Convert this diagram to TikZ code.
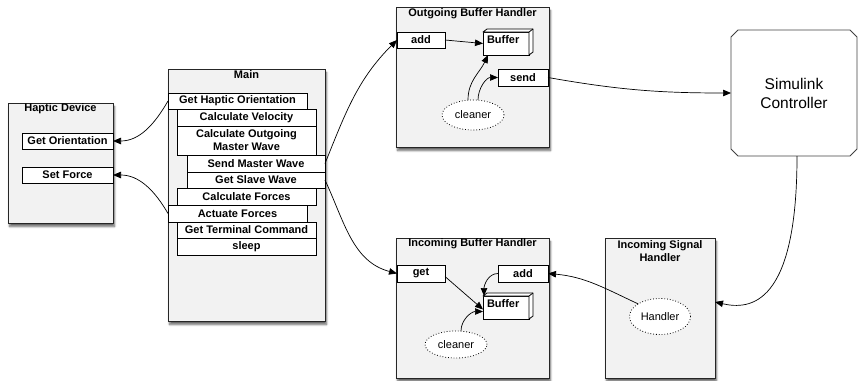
\documentclass[tikz,border=0pt]{standalone}
\usepackage{fontspec}
\setmainfont{Liberation Sans}
\usetikzlibrary{arrows.meta,shapes.geometric,shapes.misc,shadows.blur}
\begin{document}
\begin{tikzpicture}[x=1pt,y=-1pt,
  every node/.style={inner sep=0pt, outer sep=0pt},
  sz/.style 2 args={minimum width=#1pt, minimum height=#2pt},
  group/.style={draw=black!85, line width=0.9pt, fill=black!5,
     blur shadow={shadow xshift=1.5pt, shadow yshift=-3.5pt, shadow blur steps=6, shadow opacity=60}},
  ttl/.style={font=\fontsize{11}{13}\selectfont\bfseries, align=center},
  item/.style={draw, line width=0.8pt, fill=white, font=\fontsize{11}{13}\selectfont\bfseries, align=center},
  proc/.style={draw, dotted, line width=0.8pt, fill=white, ellipse, font=\fontsize{11}{13}\selectfont},
  conn/.style={line width=0.7pt, -{Triangle[length=8pt,width=6.5pt]}},
  face/.style={fill=white, draw, line width=0.8pt, line join=round}
]
\useasboundingbox (0,0) rectangle (858,380);

% Haptic Device
\node[group, sz={105}{120}] (hd) at (60.5,163) {};
\node[ttl] (hdt) at (60.5,109) {Haptic Device};
\node[item, sz={91}{16}] (go) at (67.5,141) {Get Orientation};
\node[item, sz={91}{16}] (sf) at (67.5,175) {Set Force};

% Main
\node[group, sz={157}{252}] (main) at (246.5,195) {};
\node[ttl] (maint) at (246.5,75) {Main};
\node[item, sz={139}{16}] (gho) at (237.5,101) {Get Haptic Orientation};
\node[item, sz={139}{17}] (cv) at (246.5,117.5) {Calculate Velocity};
\node[item, sz={139}{29}] (comw) at (246.5,140.5) {Calculate Outgoing\\Master Wave};
\node[item, sz={138}{17}] (smw) at (256,163.5) {Send Master Wave};
\node[item, sz={138}{16}] (gsw) at (256,180) {Get Slave Wave};
\node[item, sz={139}{17}] (cf) at (246.5,196.5) {Calculate Forces};
\node[item, sz={139}{17}] (af) at (237.5,213.5) {Actuate Forces};
\node[item, sz={139}{16}] (gtc) at (246.5,230) {Get Terminal Command};
\node[item, sz={139}{17}] (slp) at (246.5,246.5) {sleep};

% Outgoing Buffer Handler
\node[group, sz={153}{140}] (obh) at (472.5,77) {};
\node[ttl] (obht) at (472.5,14) {Outgoing Buffer Handler};
\node[item, sz={48}{16}] (oadd) at (421,40) {add};
\node[item, sz={50}{17}] (osend) at (523,77.5) {send};
\node[proc, sz={62}{30}] (ocl) at (473,115) {cleaner};
\node[draw, line width=0.8pt, fill=white, sz={46}{23}] (obuf) at (506,43.5) {};
\filldraw[face] (obuf.north west) -- ++(4,-3) -- ++(46,0) -- ++(0,23) -- (obuf.south east) -- (obuf.north east) -- cycle;
\draw[line width=0.8pt] (obuf.north east) -- ++(4,-3);
\node[ttl, anchor=north west] (obufl) at ([xshift=4pt,yshift=-3.5pt]obuf.north west) {Buffer};

% Incoming Buffer Handler
\node[group, sz={153}{140}] (ibh) at (472.5,308) {};
\node[ttl] (ibht) at (472.5,244) {Incoming Buffer Handler};
\node[item, sz={48}{17}] (iget) at (421,273.5) {get};
\node[item, sz={50}{17}] (iadd) at (523,273.5) {add};
\node[proc, sz={62}{27}] (icl) at (456,344.5) {cleaner};
\node[draw, line width=0.8pt, fill=white, sz={46}{23}] (ibuf) at (506,307.5) {};
\filldraw[face] (ibuf.north west) -- ++(4,-3) -- ++(46,0) -- ++(0,23) -- (ibuf.south east) -- (ibuf.north east) -- cycle;
\draw[line width=0.8pt] (ibuf.north east) -- ++(4,-3);
\node[ttl, anchor=north west] (ibufl) at ([xshift=4pt,yshift=-3.5pt]ibuf.north west) {Buffer};

% Incoming Signal Handler
\node[group, sz={110}{140}] (ish) at (660,308) {};
\node[ttl] (isht) at (660,251) {Incoming Signal\\Handler};
\node[proc, sz={61}{36}] (hnd) at (660,316.5) {Handler};

% Simulink Controller
\node[sz={126}{126}, font=\fontsize{15.5}{19}\selectfont, align=center] (sim) at (794,93) {Simulink\\Controller};
\draw[draw=black!75, line width=0.8pt, line join=round]
  ([xshift=7pt]sim.north west) -- ([xshift=-7pt]sim.north east) -- ([yshift=-7pt]sim.north east)
  -- ([yshift=7pt]sim.south east) -- ([xshift=-7pt]sim.south east) -- ([xshift=7pt]sim.south west)
  -- ([yshift=7pt]sim.south west) -- ([yshift=-7pt]sim.north west) -- cycle;

% Connectors
\draw[conn] (gho.west) to[out=-120,in=0] (go.east);
\draw[conn] (af.west) to[out=120,in=0] (sf.east);
\draw[conn] (smw.east) to[out=68,in=225] (oadd.west);
\draw[conn] (gsw.east) to[out=-65,in=165] (iget.west);
\draw[conn] (oadd.east) -- (obuf.west);
\draw[conn] ([xshift=-5pt]ocl.north) to[out=90,in=-115] ([xshift=-18pt]obuf.south);
\draw[conn] ([xshift=5pt]ocl.north) to[out=90,in=180] (osend.west);
\draw[conn] (osend.east) to[out=-10,in=180] (sim.west);
\draw[conn] ([xshift=3pt]sim.south) .. controls +(0,150) and +(35,8) .. ([yshift=6pt]ish.east);
\draw[conn] (hnd.150) to[out=155,in=-5] (iadd.east);
\draw[conn] (iadd.west) to[out=180,in=90] ([xshift=-22pt]ibuf.north);
\draw[conn] ([yshift=-3pt]iget.east) -- ([yshift=-2pt]ibuf.west);
\draw[conn] ([xshift=5pt]icl.north) to[out=90,in=180] ([yshift=-4pt]ibuf.west);
\end{tikzpicture}
\end{document}
